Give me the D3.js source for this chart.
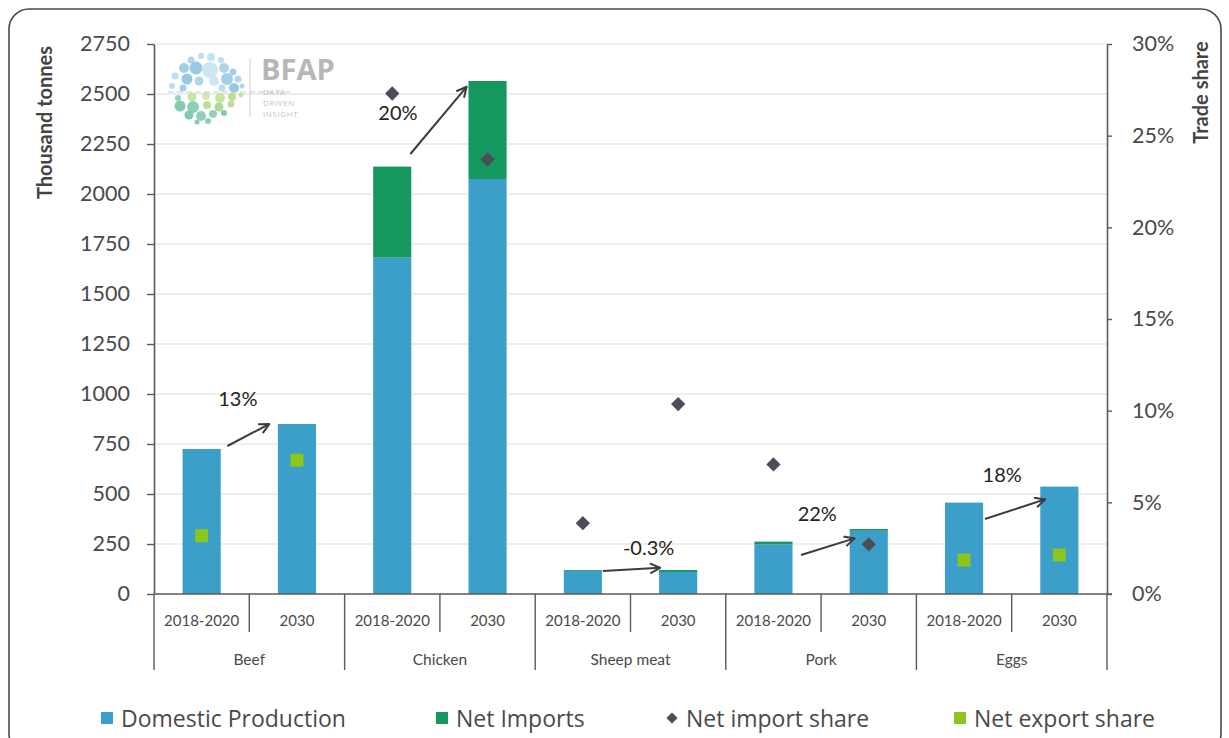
<!DOCTYPE html>
<html>
<head>
<meta charset="utf-8">
<script src="https://cdn.jsdelivr.net/npm/d3@7"></script>
<style>
  html, body { margin: 0; padding: 0; background: #fff; }
  svg { display: block; }
  text { font-family: Lato, "Open Sans", sans-serif; }
</style>
</head>
<body>
<svg id="chart" width="1229" height="738"></svg>
<script>
// ---- data -------------------------------------------------------------
const products = ["Beef", "Chicken", "Sheep meat", "Pork", "Eggs"];
const periods = ["2018-2020", "2030"];
// thousand tonnes, in product × period order
const domesticProduction = [725, 850, 1682, 2075, 116, 110, 248, 316, 457, 537];
const netImports = [0, 0, 455, 490, 4, 10, 14, 9, 0, 0];
// trade shares (fraction of consumption)
const netImportShare = [null, null, 0.273, 0.237, 0.0386, 0.1036, 0.0707, 0.0271, null, null];
const netExportShare = [0.0318, 0.073, null, null, null, null, null, null, 0.0185, 0.0213];
// growth in total volume 2018-2020 → 2030, per product
const growthLabels = ["13%", "20%", "-0.3%", "22%", "18%"];
const leftTicks = [0, 250, 500, 750, 1000, 1250, 1500, 1750, 2000, 2250, 2500, 2750];
const rightTicks = [0, 0.05, 0.10, 0.15, 0.20, 0.25, 0.30];

// annotation anchors: [slot, fraction across slot, thousand tonnes]
const arrowFrom = [[0, 0.77, 740], [2, 0.69, 2200], [4, 0.71, 115], [6, 0.79, 195], [8, 0.72, 375]];
const arrowTo   = [[1, 0.21, 850], [3, 0.28, 2536], [5, 0.31, 131], [7, 0.35, 278], [9, 0.35, 473]];
const labelAt   = [[0, 0.88, 980], [2, 0.56, 2410], [5, 0.19, 235], [6, 0.96, 405], [8, 0.90, 600]];

// ---- layout ---------------------------------------------------------------
const svg = d3.select("#chart");
const plot = { left: 154, right: 1107, top: 44, bottom: 594 };
const C = {
  domestic: "#3c9fca",
  imports: "#159760",
  importShare: "#4b4d58",
  exportShare: "#8cc51c",
  axis: "#5a5a5a",
  grid: "#e9e9e9",
  text: "#4a4a4a"
};

const rows = [];
products.forEach((p, i) => periods.forEach((per, j) => {
  const k = i * periods.length + j;
  rows.push({ key: p + "|" + per, product: p, period: per, k,
    domestic: domesticProduction[k], imports: netImports[k],
    impShare: netImportShare[k], expShare: netExportShare[k] });
}));

const slot = d3.scaleBand().domain(rows.map(d => d.key)).range([plot.left, plot.right]).padding(0);
const xBar = d3.scaleBand().domain(rows.map(d => d.key)).range([plot.left, plot.right])
  .paddingInner(0.6).paddingOuter(0.3);
const y = d3.scaleLinear().domain([0, 2750]).range([plot.bottom, plot.top]);
const y2 = d3.scaleLinear().domain([0, 0.30]).range([plot.bottom, plot.top]);
const slotX = (s, f) => slot(rows[s].key) + f * slot.step();

// outer frame
svg.append("rect")
  .attr("x", 9).attr("y", 9).attr("width", 1212).attr("height", 745)
  .attr("rx", 20).attr("fill", "#fff").attr("stroke", "#4a4a4a").attr("stroke-width", 1.6);

// gridlines
svg.append("g").selectAll("line").data(leftTicks.filter(t => t > 0)).join("line")
  .attr("x1", plot.left).attr("x2", plot.right)
  .attr("y1", d => y(d)).attr("y2", d => y(d))
  .attr("stroke", C.grid).attr("stroke-width", 1.3);

// logo
const logo = svg.append("g").attr("opacity", 0.7);
const dots = [
  [191, 60, 3.5, "#8ec5e0"], [201, 56, 3, "#9fd0e6"], [211, 57, 4, "#a8d5ea"], [221, 60, 3, "#9fd0e6"],
  [184, 68, 5, "#7dbbdc"], [196, 68, 6.5, "#6fb2d8"], [210, 70, 8, "#b7dcee"], [224, 68, 5, "#8ec5e0"], [233, 72, 3.5, "#7dbbdc"],
  [175, 76, 3.5, "#9fd0e6"], [187, 79, 5.5, "#6fb2d8"], [199, 81, 4.5, "#8ec5e0"], [214, 81, 5, "#b7dcee"],
  [227, 79, 6, "#7dbbdc"], [238, 79, 3.5, "#8ec5e0"],
  [172, 86, 3, "#9fd0e6"], [183, 88, 3.5, "#7dbbdc"], [222, 88, 3.5, "#9fd0e6"], [234, 88, 5, "#6fb2d8"], [242, 86, 2.5, "#8ec5e0"],
  [178, 98, 3, "#6cbf9e"], [192, 97, 4.5, "#b5d97a"], [206, 96, 4, "#c6e08f"], [220, 98, 5, "#b5d97a"],
  [232, 97, 4, "#a6d06a"], [241, 95, 2.5, "#b5d97a"],
  [180, 106, 5.5, "#4fb48f"], [193, 107, 6, "#5fbb98"], [207, 105, 4, "#a6d06a"], [219, 107, 4.5, "#8cc86c"], [231, 104, 3.5, "#a6d06a"],
  [189, 115, 4.5, "#4fb48f"], [201, 116, 5, "#5fbb98"], [213, 114, 4, "#6cbf9e"], [224, 113, 3, "#4fb48f"],
  [197, 122, 2.5, "#4fb48f"], [208, 121, 3, "#5fbb98"]
];
logo.selectAll("circle").data(dots).join("circle")
  .attr("cx", d => d[0]).attr("cy", d => d[1]).attr("r", d => d[2]).attr("fill", d => d[3]);
logo.append("line").attr("x1", 168).attr("x2", 290).attr("y1", 92).attr("y2", 92)
  .attr("stroke", "#b8b8b8").attr("stroke-width", 1).attr("stroke-dasharray", "6,3");
logo.append("line").attr("x1", 250).attr("x2", 250).attr("y1", 58).attr("y2", 117)
  .attr("stroke", "#c8c8c8").attr("stroke-width", 1.2);
logo.append("text").attr("x", 261).attr("y", 80).text("BFAP")
  .attr("font-size", 29).attr("font-weight", 700).attr("fill", "#9a9a9a")
  .style("font-family", "'Open Sans', sans-serif");
["DATA", "DRIVEN", "INSIGHT"].forEach((w, i) => logo.append("text")
  .attr("x", 263).attr("y", 95 + i * 11).text(w)
  .attr("font-size", 8).attr("fill", "#a8a8a8").attr("letter-spacing", 0.6)
  .style("font-family", "'Open Sans', sans-serif"));

// stacked bars
const bars = svg.append("g");
bars.selectAll("rect.dom").data(rows).join("rect").attr("class", "dom")
  .attr("x", d => xBar(d.key)).attr("width", xBar.bandwidth())
  .attr("y", d => y(d.domestic)).attr("height", d => y(0) - y(d.domestic))
  .attr("fill", C.domestic);
bars.selectAll("rect.imp").data(rows.filter(d => d.imports > 0)).join("rect").attr("class", "imp")
  .attr("x", d => xBar(d.key)).attr("width", xBar.bandwidth())
  .attr("y", d => y(d.domestic + d.imports)).attr("height", d => y(d.domestic) - y(d.domestic + d.imports))
  .attr("fill", C.imports);

// axes
const yAxis = svg.append("g").attr("transform", `translate(${plot.left},0)`)
  .call(d3.axisLeft(y).tickValues(leftTicks).tickFormat(d3.format("d"))
    .tickSize(7).tickPadding(17).tickSizeOuter(0));
const y2Axis = svg.append("g").attr("transform", `translate(${plot.right},0)`)
  .call(d3.axisRight(y2).tickValues(rightTicks).tickFormat(d3.format(".0%")).tickSize(5).tickPadding(20).tickSizeOuter(0));
[yAxis, y2Axis].forEach(g => {
  g.select(".domain").attr("stroke", C.axis).attr("stroke-width", 1.6);
  g.selectAll(".tick line").attr("stroke", C.axis).attr("stroke-width", 1.4);
  g.selectAll(".tick text").attr("fill", C.text).attr("font-size", 21.5)
    .style("font-family", "Lato, sans-serif");
});

// category axis: baseline, dividers and two label tiers
const xa = svg.append("g");
xa.append("line").attr("x1", plot.left).attr("x2", plot.right + 5)
  .attr("y1", y(0)).attr("y2", y(0)).attr("stroke", C.axis).attr("stroke-width", 1.6);
rows.forEach(d => {
  const x0 = slot(d.key);
  const major = d.period === periods[0];
  xa.append("line").attr("x1", x0).attr("x2", x0)
    .attr("y1", y(0)).attr("y2", major ? 670 : 632)
    .attr("stroke", C.axis).attr("stroke-width", 1.4);
});
xa.append("line").attr("x1", plot.right).attr("x2", plot.right)
  .attr("y1", y(0)).attr("y2", 670).attr("stroke", C.axis).attr("stroke-width", 1.4);
xa.selectAll("text.per").data(rows).join("text").attr("class", "per")
  .attr("x", d => slot(d.key) + slot.bandwidth() / 2).attr("y", 620)
  .attr("text-anchor", "middle").attr("dominant-baseline", "central")
  .attr("font-size", 15).attr("fill", C.text).text(d => d.period);
xa.selectAll("text.prod").data(products).join("text").attr("class", "prod")
  .attr("x", (p, i) => slot(rows[i * 2].key) + slot.step())
  .attr("y", 659).attr("text-anchor", "middle").attr("dominant-baseline", "central")
  .attr("font-size", 15.5).attr("fill", C.text).text(p => p);

// axis titles
svg.append("text").attr("transform", `translate(52,${(40 + 205) / 2}) rotate(-90)`)
  .attr("text-anchor", "middle").attr("font-size", 20).attr("font-weight", 700)
  .attr("fill", "#444").text("Thousand tonnes");
svg.append("text").attr("transform", `translate(1208,${(38 + 147) / 2}) rotate(-90)`)
  .attr("text-anchor", "middle").attr("font-size", 20).attr("font-weight", 700)
  .attr("fill", "#444").text("Trade share");

// share markers
const diamond = d3.symbol().type(d3.symbolDiamond2).size(130);
svg.append("g").selectAll("path").data(rows.filter(d => d.impShare != null)).join("path")
  .attr("transform", d => `translate(${slot(d.key) + slot.bandwidth() / 2},${y2(d.impShare)})`)
  .attr("d", diamond).attr("fill", C.importShare);
const sq = 13;
svg.append("g").selectAll("rect").data(rows.filter(d => d.expShare != null)).join("rect")
  .attr("x", d => slot(d.key) + slot.bandwidth() / 2 - sq / 2)
  .attr("y", d => y2(d.expShare) - sq / 2)
  .attr("width", sq).attr("height", sq).attr("fill", C.exportShare);

// growth arrows and labels
const defs = svg.append("defs");
defs.append("marker").attr("id", "chev").attr("viewBox", "0 0 12 12")
  .attr("refX", 11).attr("refY", 6).attr("markerWidth", 12).attr("markerHeight", 12)
  .attr("markerUnits", "userSpaceOnUse").attr("orient", "auto")
  .append("path").attr("d", "M1,1 L11,6 L1,11").attr("fill", "none")
  .attr("stroke", "#3d3d3d").attr("stroke-width", 2).attr("stroke-linejoin", "miter");
const ann = svg.append("g");
growthLabels.forEach((g, i) => {
  const a = arrowFrom[i], b = arrowTo[i], l = labelAt[i];
  ann.append("line")
    .attr("x1", slotX(a[0], a[1])).attr("y1", y(a[2]))
    .attr("x2", slotX(b[0], b[1])).attr("y2", y(b[2]))
    .attr("stroke", "#3d3d3d").attr("stroke-width", 2).attr("marker-end", "url(#chev)");
  ann.append("text").attr("x", slotX(l[0], l[1])).attr("y", y(l[2]))
    .attr("text-anchor", "middle").attr("dominant-baseline", "central")
    .attr("font-size", 20).attr("fill", "#222").text(g);
});

// legend
const legendItems = [
  { label: "Domestic Production", kind: "square", color: C.domestic, x: 101 },
  { label: "Net Imports", kind: "square", color: C.imports, x: 436 },
  { label: "Net import share", kind: "diamond", color: C.importShare, x: 666 },
  { label: "Net export share", kind: "square", color: C.exportShare, x: 954 }
];
const lg = svg.append("g").attr("transform", "translate(0,718)");
legendItems.forEach(it => {
  if (it.kind === "square") {
    lg.append("rect").attr("x", it.x).attr("y", -6).attr("width", 12).attr("height", 12).attr("fill", it.color);
  } else {
    lg.append("path").attr("transform", `translate(${it.x + 6},0)`)
      .attr("d", d3.symbol().type(d3.symbolDiamond2).size(80)).attr("fill", it.color);
  }
  lg.append("text").attr("x", it.x + 20).attr("y", 0).attr("dominant-baseline", "central")
    .attr("font-size", 23).attr("fill", C.text).text(it.label)
    .style("font-family", "'Open Sans', sans-serif");
});
</script>
</body>
</html>
